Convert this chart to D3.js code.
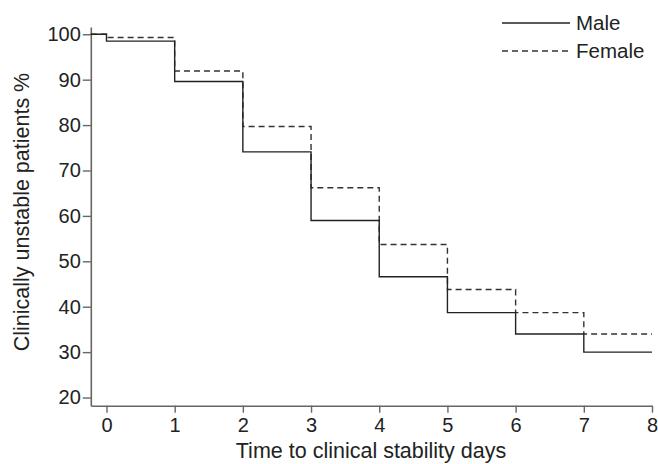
<!DOCTYPE html>
<html>
<head>
<meta charset="utf-8">
<script src="https://cdn.jsdelivr.net/npm/d3@7"></script>
<style>
  html, body { margin: 0; padding: 0; background: #fff; }
  svg { display: block; }
  text { font-family: "Liberation Sans", Arial, sans-serif; fill: #222; }
</style>
</head>
<body>
<svg id="chart" width="658" height="464"></svg>
<script>
// Data: step-function survival curves (value after each step time)
const stepTimes   = [0, 1, 2, 3, 4, 5, 6, 7];
const maleValues  = [98.5, 89.6, 74.1, 59.0, 46.6, 38.7, 34.0, 30.0];
const femaleValues= [99.3, 91.9, 79.7, 66.2, 53.7, 43.8, 38.7, 34.0];
const startValue  = 100;
const endTime     = 8;
const xTicks      = [0, 1, 2, 3, 4, 5, 6, 7, 8];
const yTicks      = [20, 30, 40, 50, 60, 70, 80, 90, 100];
const seriesNames = ["Male", "Female"];

const svg = d3.select("#chart");
const x = d3.scaleLinear().domain([-0.23, 8]).range([90.8, 652]);
const y = d3.scaleLinear().domain([18.2, 101.6]).range([405.7, 27]);

const axisColor = "#666";

// Axes
const gx = svg.append("g").attr("transform", `translate(0,${y(18.2)})`)
  .call(d3.axisBottom(x).tickValues(xTicks).tickSize(7).tickPadding(5).tickSizeOuter(0).tickFormat(d3.format("d")));
const gy = svg.append("g").attr("transform", `translate(${x(-0.23)},0)`)
  .call(d3.axisLeft(y).tickValues(yTicks).tickSize(8).tickPadding(2).tickSizeOuter(0).tickFormat(d3.format("d")));
[gx, gy].forEach(g => {
  g.select(".domain").attr("stroke", axisColor).attr("stroke-width", 1.6);
  g.selectAll(".tick line").attr("stroke", axisColor).attr("stroke-width", 1.4);
  g.selectAll(".tick text").attr("fill", "#222").style("font-size", "20px")
    .style("font-family", '"Liberation Sans", Arial, sans-serif');
});

// Build step data
function buildSteps(vals) {
  const pts = [[x.domain()[0], startValue]];
  stepTimes.forEach((t, i) => pts.push([t, vals[i]]));
  pts.push([endTime, vals[vals.length - 1]]);
  return pts;
}
const line = d3.line().x(d => x(d[0])).y(d => y(d[1])).curve(d3.curveStepAfter);

const styles = [
  { dash: null, color: "#222" },
  { dash: "6,4", color: "#333" }
];

// Female first so male solid sits on top
[[femaleValues, styles[1]], [maleValues, styles[0]]].forEach(([vals, st]) => {
  svg.append("path")
    .datum(buildSteps(vals))
    .attr("d", line)
    .attr("fill", "none")
    .attr("stroke", st.color)
    .attr("stroke-width", 1.4)
    .attr("stroke-dasharray", st.dash);
});

// Legend
const legend = svg.append("g");
seriesNames.forEach((name, i) => {
  const ly = 23 + i * 28;
  legend.append("line")
    .attr("x1", 502).attr("x2", 570).attr("y1", ly).attr("y2", ly)
    .attr("stroke", styles[i].color).attr("stroke-width", 1.4)
    .attr("stroke-dasharray", styles[i].dash);
  legend.append("text")
    .attr("x", 576).attr("y", ly).attr("dy", "0.35em")
    .style("font-size", "20.5px").text(name);
});

// Axis titles
svg.append("text")
  .attr("x", 371).attr("y", 458).attr("text-anchor", "middle")
  .style("font-size", "21.5px").text("Time to clinical stability days");
svg.append("text")
  .attr("transform", `translate(29,212) rotate(-90)`)
  .attr("text-anchor", "middle")
  .style("font-size", "21.5px").text("Clinically unstable patients %");
</script>
</body>
</html>
